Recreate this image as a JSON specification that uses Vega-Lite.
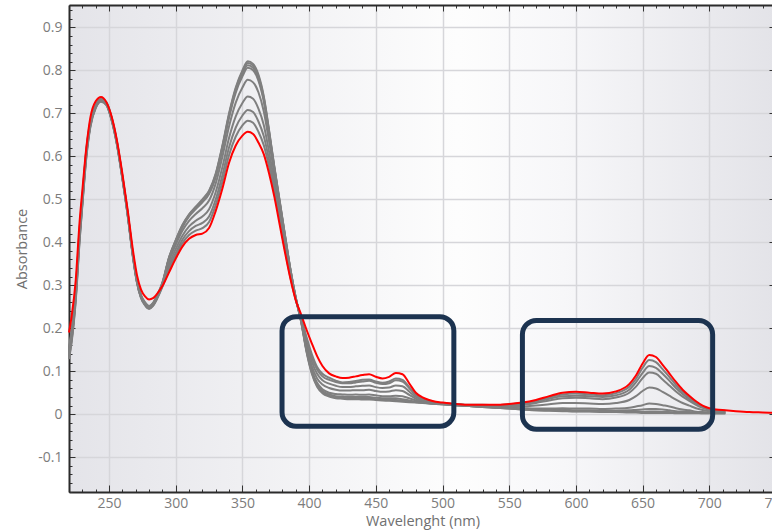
{
  "$schema": "https://vega.github.io/schema/vega-lite/v6.json",
  "width": 707,
  "height": 487,
  "autosize": {"type": "none"},
  "padding": {"left": 69, "top": 5, "right": -4, "bottom": 39},
  "background": "white",
  "datasets": {
    "spec": [
      {"w":220,"r":0.19,"g1":0.128,"g2":0.132,"g3":0.136,"g4":0.14,"g5":0.144,"g6":0.148,"g7":0.152,"g8":0.156},
      {"w":222,"r":0.228,"g1":0.168,"g2":0.172,"g3":0.176,"g4":0.18,"g5":0.184,"g6":0.188,"g7":0.192,"g8":0.196},
      {"w":225,"r":0.31,"g1":0.262,"g2":0.266,"g3":0.27,"g4":0.274,"g5":0.278,"g6":0.282,"g7":0.286,"g8":0.29},
      {"w":228,"r":0.45,"g1":0.405,"g2":0.409,"g3":0.413,"g4":0.417,"g5":0.421,"g6":0.425,"g7":0.429,"g8":0.433},
      {"w":230,"r":0.52,"g1":0.485,"g2":0.488,"g3":0.491,"g4":0.494,"g5":0.497,"g6":0.5,"g7":0.503,"g8":0.506},
      {"w":233,"r":0.62,"g1":0.597,"g2":0.6,"g3":0.603,"g4":0.606,"g5":0.609,"g6":0.612,"g7":0.614,"g8":0.616},
      {"w":236,"r":0.69,"g1":0.668,"g2":0.67,"g3":0.672,"g4":0.674,"g5":0.676,"g6":0.678,"g7":0.68,"g8":0.682},
      {"w":240,"r":0.728,"g1":0.712,"g2":0.713,"g3":0.714,"g4":0.716,"g5":0.717,"g6":0.718,"g7":0.719,"g8":0.72},
      {"w":244,"r":0.738,"g1":0.727,"g2":0.728,"g3":0.729,"g4":0.73,"g5":0.731,"g6":0.732,"g7":0.733,"g8":0.734},
      {"w":248,"r":0.726,"g1":0.719,"g2":0.72,"g3":0.721,"g4":0.722,"g5":0.723,"g6":0.724,"g7":0.725,"g8":0.726},
      {"w":252,"r":0.692,"g1":0.683,"g2":0.684,"g3":0.685,"g4":0.686,"g5":0.687,"g6":0.688,"g7":0.689,"g8":0.69},
      {"w":256,"r":0.636,"g1":0.626,"g2":0.627,"g3":0.628,"g4":0.629,"g5":0.63,"g6":0.631,"g7":0.632,"g8":0.633},
      {"w":260,"r":0.56,"g1":0.548,"g2":0.549,"g3":0.55,"g4":0.551,"g5":0.552,"g6":0.553,"g7":0.554,"g8":0.555},
      {"w":264,"r":0.475,"g1":0.462,"g2":0.463,"g3":0.464,"g4":0.465,"g5":0.466,"g6":0.467,"g7":0.468,"g8":0.469},
      {"w":268,"r":0.38,"g1":0.364,"g2":0.365,"g3":0.366,"g4":0.367,"g5":0.368,"g6":0.369,"g7":0.37,"g8":0.371},
      {"w":271,"r":0.323,"g1":0.305,"g2":0.306,"g3":0.307,"g4":0.308,"g5":0.309,"g6":0.31,"g7":0.311,"g8":0.312},
      {"w":274,"r":0.29,"g1":0.27,"g2":0.271,"g3":0.272,"g4":0.273,"g5":0.274,"g6":0.275,"g7":0.276,"g8":0.277},
      {"w":277,"r":0.274,"g1":0.253,"g2":0.254,"g3":0.255,"g4":0.256,"g5":0.257,"g6":0.258,"g7":0.259,"g8":0.26},
      {"w":280,"r":0.267,"g1":0.245,"g2":0.246,"g3":0.247,"g4":0.248,"g5":0.249,"g6":0.25,"g7":0.251,"g8":0.252},
      {"w":283,"r":0.27,"g1":0.252,"g2":0.253,"g3":0.254,"g4":0.255,"g5":0.256,"g6":0.257,"g7":0.258,"g8":0.259},
      {"w":286,"r":0.28,"g1":0.268,"g2":0.27,"g3":0.271,"g4":0.272,"g5":0.273,"g6":0.274,"g7":0.275,"g8":0.276},
      {"w":290,"r":0.298,"g1":0.296,"g2":0.298,"g3":0.3,"g4":0.302,"g5":0.303,"g6":0.304,"g7":0.305,"g8":0.306},
      {"w":295,"r":0.33,"g1":0.336,"g2":0.341,"g3":0.348,"g4":0.356,"g5":0.362,"g6":0.363,"g7":0.364,"g8":0.365},
      {"w":300,"r":0.362,"g1":0.369,"g2":0.375,"g3":0.384,"g4":0.394,"g5":0.401,"g6":0.403,"g7":0.404,"g8":0.405},
      {"w":305,"r":0.39,"g1":0.398,"g2":0.406,"g3":0.415,"g4":0.427,"g5":0.435,"g6":0.437,"g7":0.439,"g8":0.44},
      {"w":310,"r":0.408,"g1":0.417,"g2":0.426,"g3":0.437,"g4":0.45,"g5":0.46,"g6":0.462,"g7":0.464,"g8":0.465},
      {"w":315,"r":0.417,"g1":0.427,"g2":0.438,"g3":0.45,"g4":0.466,"g5":0.477,"g6":0.479,"g7":0.481,"g8":0.483},
      {"w":320,"r":0.42,"g1":0.433,"g2":0.445,"g3":0.46,"g4":0.479,"g5":0.493,"g6":0.496,"g7":0.498,"g8":0.5},
      {"w":325,"r":0.433,"g1":0.447,"g2":0.46,"g3":0.477,"g4":0.497,"g5":0.512,"g6":0.515,"g7":0.518,"g8":0.52},
      {"w":330,"r":0.473,"g1":0.487,"g2":0.5,"g3":0.517,"g4":0.537,"g5":0.552,"g6":0.555,"g7":0.558,"g8":0.56},
      {"w":335,"r":0.525,"g1":0.541,"g2":0.556,"g3":0.575,"g4":0.599,"g5":0.616,"g6":0.62,"g7":0.623,"g8":0.625},
      {"w":340,"r":0.585,"g1":0.603,"g2":0.621,"g3":0.643,"g4":0.67,"g5":0.69,"g6":0.694,"g7":0.697,"g8":0.7},
      {"w":345,"r":0.625,"g1":0.646,"g2":0.667,"g3":0.693,"g4":0.725,"g5":0.748,"g6":0.753,"g7":0.757,"g8":0.76},
      {"w":350,"r":0.648,"g1":0.672,"g2":0.695,"g3":0.724,"g4":0.76,"g5":0.786,"g6":0.792,"g7":0.796,"g8":0.8},
      {"w":354,"r":0.657,"g1":0.683,"g2":0.708,"g3":0.739,"g4":0.778,"g5":0.806,"g6":0.812,"g7":0.817,"g8":0.821},
      {"w":358,"r":0.652,"g1":0.678,"g2":0.703,"g3":0.734,"g4":0.772,"g5":0.8,"g6":0.806,"g7":0.811,"g8":0.815},
      {"w":362,"r":0.632,"g1":0.657,"g2":0.681,"g3":0.711,"g4":0.749,"g5":0.776,"g6":0.781,"g7":0.786,"g8":0.79},
      {"w":366,"r":0.605,"g1":0.626,"g2":0.647,"g3":0.673,"g4":0.705,"g5":0.728,"g6":0.733,"g7":0.737,"g8":0.74},
      {"w":370,"r":0.56,"g1":0.576,"g2":0.591,"g3":0.61,"g4":0.634,"g5":0.651,"g6":0.655,"g7":0.658,"g8":0.66},
      {"w":374,"r":0.505,"g1":0.516,"g2":0.527,"g3":0.54,"g4":0.557,"g5":0.569,"g6":0.571,"g7":0.573,"g8":0.575},
      {"w":378,"r":0.44,"g1":0.449,"g2":0.457,"g3":0.468,"g4":0.481,"g5":0.49,"g6":0.492,"g7":0.494,"g8":0.495},
      {"w":382,"r":0.375,"g1":0.381,"g2":0.387,"g3":0.395,"g4":0.405,"g5":0.411,"g6":0.413,"g7":0.414,"g8":0.415},
      {"w":386,"r":0.315,"g1":0.318,"g2":0.322,"g3":0.326,"g4":0.331,"g5":0.335,"g6":0.336,"g7":0.336,"g8":0.337},
      {"w":390,"r":0.265,"g1":0.266,"g2":0.267,"g3":0.268,"g4":0.269,"g5":0.27,"g6":0.27,"g7":0.271,"g8":0.271},
      {"w":394,"r":0.232,"g1":0.226,"g2":0.224,"g3":0.222,"g4":0.22,"g5":0.218,"g6":0.217,"g7":0.216,"g8":0.215},
      {"w":398,"r":0.197,"g1":0.18,"g2":0.175,"g3":0.168,"g4":0.16,"g5":0.152,"g6":0.15,"g7":0.148,"g8":0.146},
      {"w":402,"r":0.165,"g1":0.14,"g2":0.132,"g3":0.123,"g4":0.112,"g5":0.103,"g6":0.1,"g7":0.097,"g8":0.095},
      {"w":406,"r":0.135,"g1":0.11,"g2":0.104,"g3":0.094,"g4":0.083,"g5":0.073,"g6":0.069,"g7":0.066,"g8":0.064},
      {"w":410,"r":0.112,"g1":0.094,"g2":0.088,"g3":0.079,"g4":0.069,"g5":0.058,"g6":0.054,"g7":0.051,"g8":0.049},
      {"w":415,"r":0.095,"g1":0.085,"g2":0.08,"g3":0.071,"g4":0.061,"g5":0.05,"g6":0.046,"g7":0.043,"g8":0.041},
      {"w":420,"r":0.088,"g1":0.078,"g2":0.075,"g3":0.066,"g4":0.057,"g5":0.047,"g6":0.042,"g7":0.039,"g8":0.037},
      {"w":425,"r":0.084,"g1":0.074,"g2":0.072,"g3":0.063,"g4":0.055,"g5":0.046,"g6":0.041,"g7":0.038,"g8":0.036},
      {"w":430,"r":0.085,"g1":0.075,"g2":0.072,"g3":0.063,"g4":0.055,"g5":0.045,"g6":0.04,"g7":0.037,"g8":0.035},
      {"w":435,"r":0.088,"g1":0.077,"g2":0.074,"g3":0.065,"g4":0.056,"g5":0.046,"g6":0.04,"g7":0.037,"g8":0.035},
      {"w":440,"r":0.091,"g1":0.08,"g2":0.076,"g3":0.066,"g4":0.056,"g5":0.045,"g6":0.04,"g7":0.036,"g8":0.034},
      {"w":445,"r":0.093,"g1":0.081,"g2":0.078,"g3":0.067,"g4":0.057,"g5":0.046,"g6":0.04,"g7":0.036,"g8":0.034},
      {"w":450,"r":0.087,"g1":0.076,"g2":0.073,"g3":0.063,"g4":0.054,"g5":0.044,"g6":0.038,"g7":0.035,"g8":0.033},
      {"w":455,"r":0.083,"g1":0.073,"g2":0.07,"g3":0.061,"g4":0.052,"g5":0.042,"g6":0.037,"g7":0.034,"g8":0.032},
      {"w":460,"r":0.087,"g1":0.076,"g2":0.072,"g3":0.062,"g4":0.053,"g5":0.042,"g6":0.037,"g7":0.033,"g8":0.031},
      {"w":465,"r":0.096,"g1":0.083,"g2":0.079,"g3":0.067,"g4":0.056,"g5":0.043,"g6":0.037,"g7":0.033,"g8":0.03},
      {"w":470,"r":0.093,"g1":0.08,"g2":0.076,"g3":0.065,"g4":0.054,"g5":0.042,"g6":0.035,"g7":0.032,"g8":0.029},
      {"w":475,"r":0.072,"g1":0.063,"g2":0.061,"g3":0.053,"g4":0.045,"g5":0.037,"g6":0.032,"g7":0.03,"g8":0.028},
      {"w":480,"r":0.05,"g1":0.045,"g2":0.044,"g3":0.04,"g4":0.036,"g5":0.032,"g6":0.029,"g7":0.028,"g8":0.027},
      {"w":485,"r":0.039,"g1":0.036,"g2":0.036,"g3":0.033,"g4":0.031,"g5":0.029,"g6":0.027,"g7":0.027,"g8":0.026},
      {"w":490,"r":0.033,"g1":0.031,"g2":0.031,"g3":0.029,"g4":0.028,"g5":0.027,"g6":0.026,"g7":0.025,"g8":0.025},
      {"w":495,"r":0.029,"g1":0.028,"g2":0.027,"g3":0.027,"g4":0.026,"g5":0.025,"g6":0.025,"g7":0.024,"g8":0.024},
      {"w":500,"r":0.027,"g1":0.026,"g2":0.026,"g3":0.025,"g4":0.025,"g5":0.024,"g6":0.023,"g7":0.023,"g8":0.023},
      {"w":510,"r":0.024,"g1":0.024,"g2":0.023,"g3":0.023,"g4":0.022,"g5":0.021,"g6":0.021,"g7":0.021,"g8":0.021},
      {"w":520,"r":0.022,"g1":0.022,"g2":0.021,"g3":0.021,"g4":0.02,"g5":0.019,"g6":0.019,"g7":0.019,"g8":0.019},
      {"w":530,"r":0.022,"g1":0.022,"g2":0.021,"g3":0.021,"g4":0.019,"g5":0.018,"g6":0.017,"g7":0.017,"g8":0.017},
      {"w":540,"r":0.022,"g1":0.021,"g2":0.021,"g3":0.02,"g4":0.018,"g5":0.016,"g6":0.015,"g7":0.015,"g8":0.015},
      {"w":550,"r":0.024,"g1":0.023,"g2":0.022,"g3":0.021,"g4":0.018,"g5":0.015,"g6":0.014,"g7":0.013,"g8":0.013},
      {"w":560,"r":0.027,"g1":0.026,"g2":0.024,"g3":0.022,"g4":0.018,"g5":0.014,"g6":0.012,"g7":0.011,"g8":0.011},
      {"w":570,"r":0.033,"g1":0.031,"g2":0.028,"g3":0.026,"g4":0.02,"g5":0.013,"g6":0.011,"g7":0.009,"g8":0.009},
      {"w":580,"r":0.042,"g1":0.039,"g2":0.036,"g3":0.032,"g4":0.023,"g5":0.013,"g6":0.01,"g7":0.009,"g8":0.008},
      {"w":590,"r":0.05,"g1":0.046,"g2":0.042,"g3":0.037,"g4":0.026,"g5":0.014,"g6":0.01,"g7":0.008,"g8":0.007},
      {"w":600,"r":0.052,"g1":0.048,"g2":0.043,"g3":0.038,"g4":0.026,"g5":0.013,"g6":0.009,"g7":0.007,"g8":0.006},
      {"w":610,"r":0.05,"g1":0.046,"g2":0.042,"g3":0.037,"g4":0.025,"g5":0.013,"g6":0.009,"g7":0.007,"g8":0.006},
      {"w":620,"r":0.048,"g1":0.044,"g2":0.04,"g3":0.035,"g4":0.024,"g5":0.012,"g6":0.008,"g7":0.006,"g8":0.005},
      {"w":630,"r":0.053,"g1":0.049,"g2":0.044,"g3":0.039,"g4":0.026,"g5":0.013,"g6":0.008,"g7":0.006,"g8":0.005},
      {"w":640,"r":0.07,"g1":0.064,"g2":0.057,"g3":0.05,"g4":0.033,"g5":0.015,"g6":0.009,"g7":0.005,"g8":0.004},
      {"w":645,"r":0.09,"g1":0.082,"g2":0.074,"g3":0.064,"g4":0.042,"g5":0.018,"g6":0.01,"g7":0.006,"g8":0.004},
      {"w":650,"r":0.118,"g1":0.108,"g2":0.096,"g3":0.084,"g4":0.054,"g5":0.021,"g6":0.011,"g7":0.005,"g8":0.003},
      {"w":655,"r":0.138,"g1":0.126,"g2":0.112,"g3":0.097,"g4":0.062,"g5":0.025,"g6":0.012,"g7":0.006,"g8":0.003},
      {"w":660,"r":0.133,"g1":0.121,"g2":0.108,"g3":0.094,"g4":0.06,"g5":0.024,"g6":0.012,"g7":0.006,"g8":0.003},
      {"w":665,"r":0.115,"g1":0.105,"g2":0.094,"g3":0.081,"g4":0.052,"g5":0.021,"g6":0.011,"g7":0.005,"g8":0.003},
      {"w":670,"r":0.095,"g1":0.087,"g2":0.078,"g3":0.067,"g4":0.043,"g5":0.018,"g6":0.009,"g7":0.005,"g8":0.003},
      {"w":675,"r":0.075,"g1":0.068,"g2":0.061,"g3":0.053,"g4":0.034,"g5":0.014,"g6":0.007,"g7":0.003,"g8":0.002},
      {"w":680,"r":0.057,"g1":0.052,"g2":0.047,"g3":0.041,"g4":0.026,"g5":0.011,"g6":0.006,"g7":0.003,"g8":0.002},
      {"w":685,"r":0.043,"g1":0.039,"g2":0.035,"g3":0.031,"g4":0.02,"g5":0.009,"g6":0.005,"g7":0.003,"g8":0.002},
      {"w":690,"r":0.03,"g1":0.027,"g2":0.025,"g3":0.022,"g4":0.014,"g5":0.006,"g6":0.004,"g7":0.003,"g8":0.002},
      {"w":695,"r":0.02,"g1":0.018,"g2":0.017,"g3":0.015,"g4":0.01,"g5":0.005,"g6":0.003,"g7":0.002,"g8":0.002},
      {"w":700,"r":0.014,"g1":0.013,"g2":0.012,"g3":0.01,"g4":0.007,"g5":0.004,"g6":0.003,"g7":0.002,"g8":0.002},
      {"w":705,"r":0.011,"g1":0.01,"g2":0.009,"g3":0.008,"g4":0.006,"g5":0.003,"g6":0.002,"g7":0.002,"g8":0.002},
      {"w":712,"r":0.009,"g1":0.008,"g2":0.007,"g3":0.006,"g4":0.005,"g5":0.003,"g6":0.002,"g7":0.002,"g8":0.002},
      {"w":720,"r":0.007},
      {"w":730,"r":0.005},
      {"w":740,"r":0.004},
      {"w":750,"r":0.003}
    ],
    "boxes": [
      {"x1": 379.7, "x2": 508.5, "y1": -0.028, "y2": 0.227},
      {"x1": 559.9, "x2": 702.5, "y1": -0.035, "y2": 0.218}
    ]
  },
  "data": {"name": "spec"},
  "resolve": {"axis": {"x": "independent", "y": "independent"}},
  "layer": [
    {
      "transform": [{"fold": ["g1","g2","g3","g4","g5","g6","g7","g8"], "as": ["series","a"]}],
      "mark": {"type": "line", "color": "#7f7f7f", "strokeWidth": 2, "interpolate": "monotone"},
      "encoding": {
        "x": {
          "field": "w", "type": "quantitative",
          "scale": {"domain": [220, 750], "nice": false, "zero": false},
          "axis": {
            "orient": "bottom",
            "title": "Wavelenght (nm)",
            "values": [220,230,240,250,260,270,280,290,300,310,320,330,340,350,360,370,380,390,400,410,420,430,440,450,460,470,480,490,500,510,520,530,540,550,560,570,580,590,600,610,620,630,640,650,660,670,680,690,700,710,720,730,740,750],
            "labelExpr": "datum.value % 50 === 0 ? datum.label : ''",
            "labelOverlap": false,
            "labelFlush": false,
            "labelPadding": 11,
            "grid": true,
            "gridOpacity": {"condition": {"test": "datum.value % 50 === 0", "value": 1}, "value": 0},
            "tickSize": {"condition": {"test": "datum.value % 50 === 0", "value": -7}, "value": -3},
            "titlePadding": 0
          }
        },
        "y": {
          "field": "a", "type": "quantitative",
          "scale": {"domain": [-0.181, 0.952], "nice": false, "zero": false},
          "axis": {
            "orient": "left",
            "title": "Absorbance",
            "values": [-0.18,-0.16,-0.14,-0.12,-0.1,-0.08,-0.06,-0.04,-0.02,0,0.02,0.04,0.06,0.08,0.1,0.12,0.14,0.16,0.18,0.2,0.22,0.24,0.26,0.28,0.3,0.32,0.34,0.36,0.38,0.4,0.42,0.44,0.46,0.48,0.5,0.52,0.54,0.56,0.58,0.6,0.62,0.64,0.66,0.68,0.7,0.72,0.74,0.76,0.78,0.8,0.82,0.84,0.86,0.88,0.9,0.92,0.94],
            "labelExpr": "abs(datum.value*10 - round(datum.value*10)) < 0.001 ? toString(round(datum.value*10)/10) : ''",
            "labelOverlap": false,
            "labelFlush": false,
            "labelPadding": 13,
            "grid": true,
            "gridOpacity": {"condition": {"test": "abs(datum.value*10 - round(datum.value*10)) < 0.001", "value": 1}, "value": 0},
            "tickSize": {"condition": {"test": "abs(datum.value*10 - round(datum.value*10)) < 0.001", "value": -6}, "value": -3},
            "titlePadding": 8
          }
        },
        "detail": {"field": "series", "type": "nominal"}
      }
    },
    {
      "mark": {"type": "line", "color": "#ff0000", "strokeWidth": 2, "interpolate": "monotone"},
      "encoding": {
        "x": {
          "field": "w", "type": "quantitative",
          "axis": {
            "orient": "top", "title": null, "labels": false, "grid": false,
            "values": [220,230,240,250,260,270,280,290,300,310,320,330,340,350,360,370,380,390,400,410,420,430,440,450,460,470,480,490,500,510,520,530,540,550,560,570,580,590,600,610,620,630,640,650,660,670,680,690,700,710,720,730,740,750],
            "tickSize": {"condition": {"test": "datum.value % 50 === 0", "value": -6}, "value": -3}
          }
        },
        "y": {
          "field": "r", "type": "quantitative",
          "axis": {
            "orient": "right", "title": null, "labels": false, "grid": false, "domain": false,
            "values": [-0.1,0,0.1,0.2,0.3,0.4,0.5,0.6,0.7,0.8,0.9],
            "tickSize": -7
          }
        }
      }
    },
    {
      "data": {"name": "boxes"},
      "mark": {"type": "rect", "filled": false, "stroke": "#1c3350", "strokeWidth": 5, "cornerRadius": 14},
      "encoding": {
        "x": {"field": "x1", "type": "quantitative", "axis": null},
        "x2": {"field": "x2"},
        "y": {"field": "y1", "type": "quantitative", "axis": null},
        "y2": {"field": "y2"}
      }
    }
  ],
  "config": {
    "view": {
      "stroke": null,
      "fill": {"gradient": "linear", "x1": 0, "y1": 0, "x2": 1, "y2": 0,
        "stops": [
          {"offset": 0, "color": "#e4e4e9"},
          {"offset": 0.35, "color": "#f4f4f6"},
          {"offset": 0.55, "color": "#fdfdfd"},
          {"offset": 0.7, "color": "#f7f7f9"},
          {"offset": 1, "color": "#e3e3e8"}
        ]}
    },
    "axis": {
      "domainColor": "#2b2b2b",
      "domainWidth": 2,
      "tickColor": "#333333",
      "tickWidth": 1,
      "gridColor": "#d6d6da",
      "gridWidth": 1.5,
      "labelFont": "Open Sans",
      "labelFontSize": 14,
      "labelColor": "#7c7c7c",
      "titleFont": "Open Sans",
      "titleFontSize": 14.5,
      "titleFontWeight": "normal",
      "titleColor": "#707070"
    }
  }
}
